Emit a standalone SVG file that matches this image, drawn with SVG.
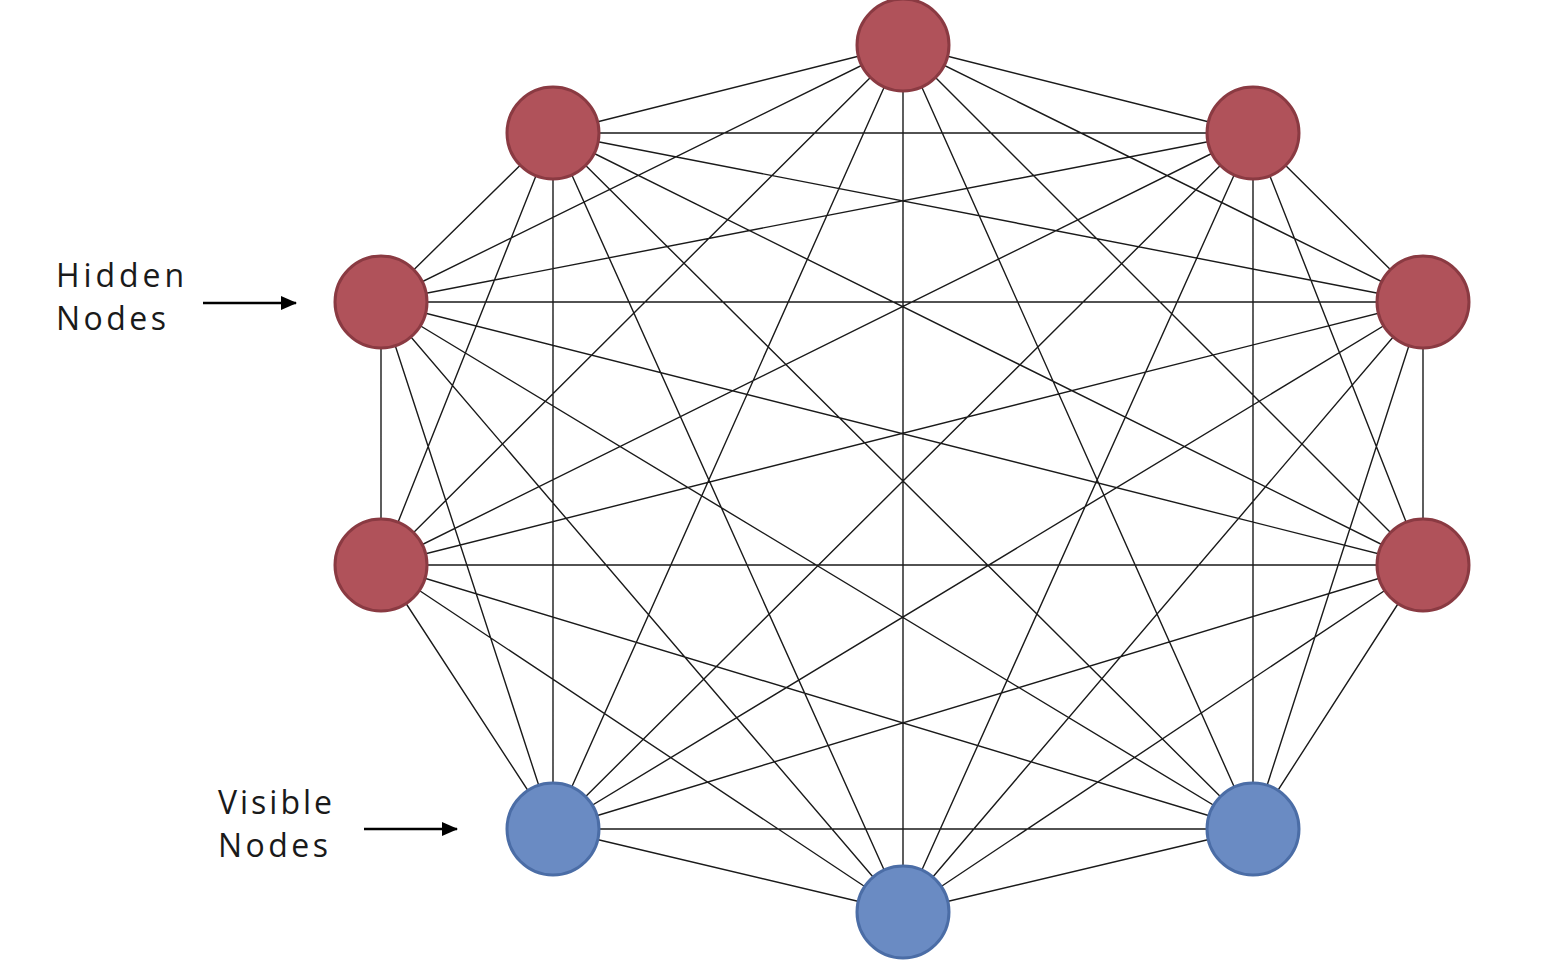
<svg xmlns="http://www.w3.org/2000/svg" width="1552" height="964" viewBox="0 0 1552 964">
<style>
.e{stroke:#1a1a1a;stroke-width:1.4;fill:none}
.h{fill:#B0525A;stroke:#8A3A42;stroke-width:3}
.v{fill:#6A8BC3;stroke:#4B6DA6;stroke-width:3}
.t{font-family:"Open Sans","Liberation Sans",sans-serif;font-size:32px;fill:#1a1a1a}
.a{stroke:#000;stroke-width:2.5}
</style>
<defs>
<marker id="ah" markerWidth="16" markerHeight="14" refX="15" refY="7" orient="auto" markerUnits="userSpaceOnUse" viewBox="0 0 16 14"><path d="M0,0L16,7L0,14z" fill="#000"/></marker>
</defs>
<rect width="1552" height="964" fill="#fff"/>
<g id="connectors">
<path class="e" d="M903,45L553,133M903,45L1253,133M903,45L381,302M903,45L1423,302M903,45L381,565M903,45L1423,565M903,45L553,829M903,45L1253,829M903,45L903,912
M553,133L1253,133M553,133L381,302M553,133L1423,302M553,133L381,565M553,133L1423,565M553,133L553,829M553,133L1253,829M553,133L903,912
M1253,133L381,302M1253,133L1423,302M1253,133L381,565M1253,133L1423,565M1253,133L553,829M1253,133L1253,829M1253,133L903,912
M381,302L1423,302M381,302L381,565M381,302L1423,565M381,302L553,829M381,302L1253,829M381,302L903,912
M1423,302L381,565M1423,302L1423,565M1423,302L553,829M1423,302L1253,829M1423,302L903,912
M381,565L1423,565M381,565L553,829M381,565L1253,829M381,565L903,912
M1423,565L553,829M1423,565L1253,829M1423,565L903,912
M553,829L1253,829M553,829L903,912M1253,829L903,912"/>
</g>
<g id="n1"><circle class="h" cx="903" cy="45" r="46"/></g>
<g id="n2"><circle class="h" cx="553" cy="133" r="46"/></g>
<g id="n3"><circle class="h" cx="1253" cy="133" r="46"/></g>
<g id="n4"><circle class="h" cx="381" cy="302" r="46"/></g>
<g id="n5"><circle class="h" cx="1423" cy="302" r="46"/></g>
<g id="n6"><circle class="h" cx="381" cy="565" r="46"/></g>
<g id="n7"><circle class="h" cx="1423" cy="565" r="46"/></g>
<g id="n8"><circle class="v" cx="553" cy="829" r="46"/></g>
<g id="n9"><circle class="v" cx="1253" cy="829" r="46"/></g>
<g id="n10"><circle class="v" cx="903" cy="912" r="46"/></g>
<g id="label-hidden">
<text class="t" x="56" y="287" textLength="128" lengthAdjust="spacing">Hidden</text>
<text class="t" x="56" y="330" textLength="110" lengthAdjust="spacing">Nodes</text>
<line class="a" x1="203" y1="303" x2="296" y2="303" marker-end="url(#ah)"/>
</g>
<g id="label-visible">
<text class="t" x="218" y="814" textLength="114" lengthAdjust="spacing">Visible</text>
<text class="t" x="218" y="857" textLength="110" lengthAdjust="spacing">Nodes</text>
<line class="a" x1="364" y1="829" x2="457" y2="829" marker-end="url(#ah)"/>
</g>
</svg>
